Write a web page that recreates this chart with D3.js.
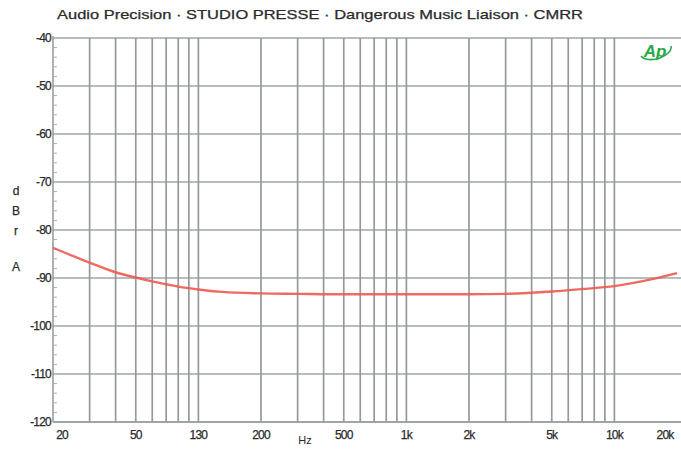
<!DOCTYPE html>
<html><head><meta charset="utf-8">
<script src="https://cdn.jsdelivr.net/npm/d3@7"></script>
<style>body{margin:0;background:#fff}svg{display:block}text{font-family:"Liberation Sans",Arial,sans-serif}</style>
</head><body>
<svg id="c" width="681" height="450"></svg>
<script>
const title = "Audio Precision · STUDIO PRESSE · Dangerous Music Liaison · CMRR";
const freqs = [20, 30, 40, 50, 60, 70, 80, 100, 130, 200, 300, 500, 1000, 2000, 3000, 5000, 7000, 10000, 15000, 20000];
const cmrr  = [-83.7, -86.8, -88.8, -89.9, -90.7, -91.3, -91.8, -92.4, -92.9, -93.2, -93.3, -93.4, -93.4, -93.4, -93.3, -92.8, -92.3, -91.7, -90.3, -89.0];
const xTickVals = [20, 50, 100, 200, 500, 1000, 2000, 5000, 10000, 20000];
const xTickLabels = ["20", "50", "130", "200", "500", "1k", "2k", "5k", "10k", "20k"];
const yTickVals = [-40, -50, -60, -70, -80, -90, -100, -110, -120];
const gridFreqs = [30,40,50,60,70,80,90,100,200,300,400,500,600,700,800,900,1000,2000,3000,4000,5000,6000,7000,8000,9000,10000];
const yLabelLetters = ["d", "B", "r", "A"];

const svg = d3.select("#c");
const L = 53, R = 677, T = 38, B = 422;
const x = d3.scaleLog().domain([20, 20000]).range([L, R]);
const y = d3.scaleLinear().domain([-120, -40]).range([B, T]);

// horizontal grid
svg.append("g").selectAll("line").data(yTickVals).join("line")
  .attr("x1", L).attr("x2", 681).attr("y1", d => y(d)).attr("y2", d => y(d))
  .attr("stroke", "#a2a6a6").attr("stroke-width", 1.7);
// vertical grid
svg.append("g").selectAll("line").data(gridFreqs).join("line")
  .attr("x1", d => x(d)).attr("x2", d => x(d)).attr("y1", T).attr("y2", B)
  .attr("stroke", "#959999").attr("stroke-width", 1.7);

// axes lines
svg.append("line").attr("x1", L).attr("x2", L).attr("y1", T - 2).attr("y2", B).attr("stroke", "#9a9e9e").attr("stroke-width", 1.6);
svg.append("line").attr("x1", L).attr("x2", 681).attr("y1", B).attr("y2", B).attr("stroke", "#9a9e9e").attr("stroke-width", 1.6);

// minor y ticks
const minor = d3.range(-120, -40, 2).filter(v => v % 10 !== 0);
svg.append("g").selectAll("line").data(minor).join("line")
  .attr("x1", L).attr("x2", L + 4).attr("y1", d => y(d)).attr("y2", d => y(d))
  .attr("stroke", "#aaaeae").attr("stroke-width", 1);

const ink = "#2a2a2a";
// y tick labels
svg.append("g").selectAll("text").data(yTickVals).join("text")
  .attr("x", L - 2).attr("y", d => y(d) + 4).attr("text-anchor", "end")
  .attr("font-size", 12).attr("fill", ink).attr("stroke", ink).attr("stroke-width", 0.25)
  .attr("letter-spacing", -0.8)
  .text(d => d3.format("d")(d).replace("−", "-"));

// x tick labels
svg.append("g").selectAll("text").data(xTickVals).join("text")
  .attr("x", (d, i) => i === 0 ? x(d) + 9 : (i === xTickVals.length - 1 ? x(d) - 12 : x(d)))
  .attr("y", 439).attr("text-anchor", "middle")
  .attr("font-size", 12).attr("fill", ink).attr("stroke", ink).attr("stroke-width", 0.25)
  .attr("letter-spacing", -0.8)
  .text((d, i) => xTickLabels[i]);

svg.append("text").attr("x", 305).attr("y", 444).attr("text-anchor", "middle")
  .attr("font-size", 11).attr("fill", ink).text("Hz");

// y label letters
const letterY = [195, 215, 235, 271];
svg.append("g").selectAll("text").data(yLabelLetters).join("text")
  .attr("x", 16).attr("y", (d, i) => letterY[i]).attr("text-anchor", "middle")
  .attr("font-size", 12).attr("fill", ink).attr("stroke", ink).attr("stroke-width", 0.25)
  .text(d => d);

// title
svg.append("text").attr("x", 57).attr("y", 19).attr("font-size", 13).attr("fill", ink)
  .attr("stroke", ink).attr("stroke-width", 0.25)
  .attr("textLength", 526).attr("lengthAdjust", "spacingAndGlyphs").text(title);

// curve
const line = d3.line().x((d, i) => x(freqs[i])).y(d => y(d)).curve(d3.curveMonotoneX);
svg.append("path").datum(cmrr).attr("d", line).attr("fill", "none")
  .attr("stroke", "#ee5a50").attr("stroke-width", 2.4).attr("stroke-opacity", 0.9);

// AP logo
const lg = svg.append("g").attr("transform", "translate(655,52)");
lg.append("path").attr("d", "M-14,4 A16,9 -15 0 0 16,-6").attr("fill", "none")
  .attr("stroke", "#2aa84a").attr("stroke-width", 1.6);
lg.append("text").attr("x", 0).attr("y", 5).attr("text-anchor", "middle")
  .attr("font-size", 17).attr("font-weight", "bold").attr("font-style", "italic")
  .attr("fill", "#2aa84a").text("Ap");
</script>
</body></html>
